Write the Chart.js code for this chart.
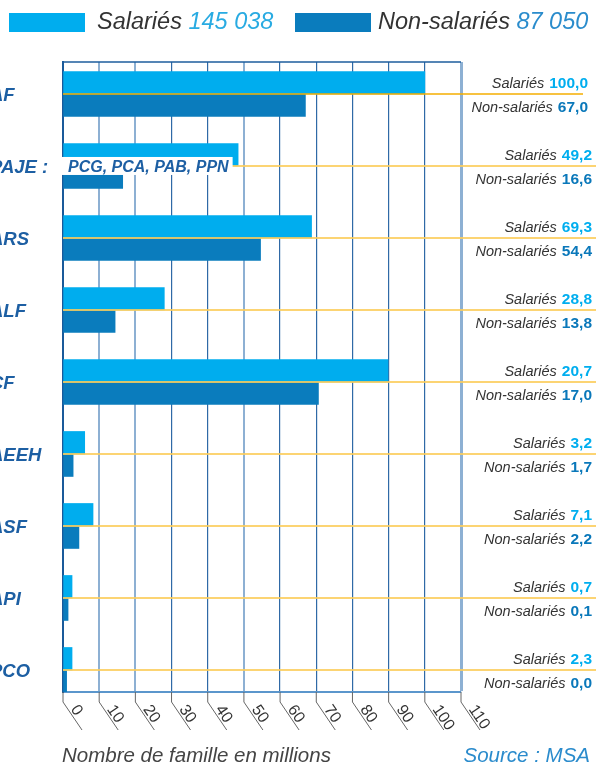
<!DOCTYPE html>
<html>
<head>
<meta charset="utf-8">
<script src="https://cdn.jsdelivr.net/npm/chart.js@4.4.0/dist/chart.umd.min.js"></script>
<style>
  body { margin: 0; background: #fff; width: 596px; height: 767px; overflow: hidden; position: relative;
         font-family: "Liberation Sans", Arial, sans-serif; }
  #chart { position: absolute; left: 0; top: 0; }
  .txt { position: absolute; font-style: italic; white-space: nowrap; line-height: 1; }
  .box { position: absolute; top: 13px; width: 76px; height: 19px; }
</style>
</head>
<body>
<canvas id="chart" width="596" height="767"></canvas>

<div class="box" style="left:9px;background:#00adee"></div>
<div class="txt" style="left:97px;top:10px;font-size:23.5px;color:#333">Salariés <span style="color:#29abe2">145 038</span></div>
<div class="box" style="left:295px;background:#0a7cbd"></div>
<div class="txt" style="left:378px;top:10px;font-size:23.5px;color:#333">Non-salariés <span style="color:#2a8ccc">87 050</span></div>

<div class="txt" style="left:62px;top:745px;font-size:20.5px;color:#444">Nombre de famille en millions</div>
<div class="txt" style="right:6px;top:745px;font-size:20.5px;color:#2a8bcc">Source : MSA</div>

<script>
// categories, top to bottom
const categories = ['AF', 'PAJE :', 'ARS', 'ALF', 'CF', 'AEEH', 'ASF', 'API', 'PCO'];
// bar lengths as drawn
const salaries    = [100, 48.4, 68.7, 28, 89.8, 6, 8.3, 2.5, 2.5];
const nonSalaries = [67, 16.5, 54.6, 14.4, 70.6, 2.8, 4.4, 1.4, 1];
// figures printed on the right
const salariesText    = ['100,0', '49,2', '69,3', '28,8', '20,7', '3,2', '7,1', '0,7', '2,3'];
const nonSalariesText = ['67,0', '16,6', '54,4', '13,8', '17,0', '1,7', '2,2', '0,1', '0,0'];
const xTicks = [0, 10, 20, 30, 40, 50, 60, 70, 80, 90, 100, 110];
const pajeDetail = 'PCG, PCA, PAB, PPN';

const lightLines = [10, 20, 50, 110];
const FONT = '"Liberation Sans", Arial, sans-serif';

function drawPair(ctx, label, value, color, right, baseline) {
  ctx.textAlign = 'right';
  ctx.font = 'bold 15.5px ' + FONT;
  ctx.fillStyle = color;
  ctx.fillText(value, right, baseline);
  const w = ctx.measureText(value).width;
  ctx.font = 'italic 14.5px ' + FONT;
  ctx.fillStyle = '#333';
  ctx.fillText(label, right - w - 5, baseline);
}

const decor = {
  id: 'decor',
  afterDatasetsDraw(chart) {
    const { ctx, chartArea: a, scales: { x, y } } = chart;
    ctx.save();

    // top frame line
    ctx.strokeStyle = '#1d5c9c';
    ctx.lineWidth = 1.5;
    ctx.beginPath();
    ctx.moveTo(a.left, a.top);
    ctx.lineTo(x.getPixelForValue(110), a.top);
    ctx.stroke();

    categories.forEach((c, i) => {
      const py = y.getPixelForValue(i);
      // separator
      ctx.strokeStyle = i === 0 ? '#f5ae00' : 'rgba(252,204,90,0.85)';
      ctx.lineWidth = i === 0 ? 1.5 : 2;
      ctx.beginPath();
      ctx.moveTo(a.left, py);
      ctx.lineTo(i === 0 ? 583 : 596, py);
      ctx.stroke();
      // category name (cut on the left like the source)
      ctx.font = 'italic bold 18.5px ' + FONT;
      ctx.fillStyle = '#1d5fa3';
      ctx.textAlign = 'left';
      ctx.fillText(c, -10, py + 7);
      // right side figures
      drawPair(ctx, 'Salariés', salariesText[i], '#00aeef', i === 0 ? 588 : 592, py - 6);
      drawPair(ctx, 'Non-salariés', nonSalariesText[i], '#0a78ba', i === 0 ? 588 : 592, py + 18);
    });

    // PAJE detail label on white
    const py = y.getPixelForValue(1);
    ctx.font = 'italic bold 16px ' + FONT;
    const tw = ctx.measureText(pajeDetail).width;
    ctx.fillStyle = '#fff';
    ctx.fillRect(a.left - 1, py - 9, tw + 10, 18);
    ctx.fillStyle = '#1d5fa3';
    ctx.textAlign = 'left';
    ctx.fillText(pajeDetail, a.left + 5, py + 6);

    // slanted tick marks and labels
    const ang = Math.atan2(28, 19);
    xTicks.forEach(t => {
      const px = x.getPixelForValue(t);
      ctx.strokeStyle = '#666';
      ctx.lineWidth = 1;
      ctx.beginPath();
      ctx.moveTo(px, a.bottom);
      ctx.lineTo(px, a.bottom + 10);
      ctx.lineTo(px + 19, a.bottom + 38);
      ctx.stroke();
      ctx.save();
      ctx.translate(px, a.bottom + 10);
      ctx.rotate(ang);
      ctx.font = '16px ' + FONT;
      ctx.fillStyle = '#333';
      ctx.textAlign = 'left';
      ctx.fillText(String(t), 10, -2);
      ctx.restore();
    });

    ctx.restore();
  }
};

new Chart(document.getElementById('chart'), {
  type: 'bar',
  data: {
    datasets: [
      {
        label: 'Salariés',
        data: salaries.map((v, i) => ({ x: v, y: i })),
        backgroundColor: '#00adee'
      },
      {
        label: 'Non-salariés',
        data: nonSalaries.map((v, i) => ({ x: v, y: i })),
        backgroundColor: '#0a7cbd'
      }
    ]
  },
  options: {
    indexAxis: 'y',
    responsive: false,
    animation: false,
    layout: { padding: { left: 63, top: 62, right: 135, bottom: 75 } },
    datasets: { bar: { barThickness: 22.5, borderWidth: 0 } },
    plugins: { legend: { display: false }, tooltip: { enabled: false } },
    scales: {
      x: {
        type: 'linear',
        min: 0,
        max: 110,
        ticks: { display: false, stepSize: 10 },
        grid: {
          drawTicks: false,
          color: c => lightLines.includes(c.tick.value) ? '#8db0d3' : '#2f69a6',
          lineWidth: c => c.tick.value === 110 ? 3 : (lightLines.includes(c.tick.value) ? 2 : 1.2)
        },
        border: { color: '#5b96cc', width: 2 }
      },
      y: {
        type: 'linear',
        bounds: 'data',
        offset: false,
        reverse: true,
        min: -0.444,
        max: 8.306,
        ticks: { display: false, stepSize: 1, includeBounds: false },
        grid: { display: false, drawTicks: false, offset: false },
        border: { color: '#1a5a9a', width: 2 }
      }
    }
  },
  plugins: [decor]
});
</script>
</body>
</html>
